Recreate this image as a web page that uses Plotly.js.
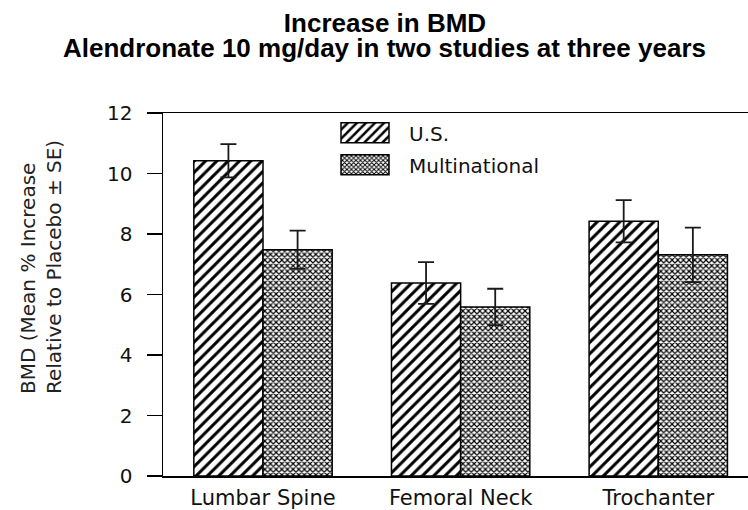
<!DOCTYPE html>
<html>
<head>
<meta charset="utf-8">
<script src="https://cdn.plot.ly/plotly-3.0.1.min.js"></script>
<style>html,body{margin:0;padding:0;background:#fff;}#chart{width:748px;height:510px;}</style>
</head>
<body>
<div id="chart"></div>
<script>
// ---- data ----
const categories = ['Lumbar Spine', 'Femoral Neck', 'Trochanter'];
const usValues = [10.42, 6.38, 8.42];
const usErrors = [0.55, 0.69, 0.70];
const multiValues = [7.48, 5.59, 7.31];
const multiErrors = [0.63, 0.60, 0.90];
const seriesNames = ['U.S.', 'Multinational'];
const yTickValues = [0, 2, 4, 6, 8, 10, 12];
const titleLine1 = 'Increase in BMD';
const titleLine2 = 'Alendronate 10 mg/day in two studies at three years';
const yTitle = 'BMD (Mean % Increase<br>Relative to Placebo ± SE)';

const axisFont = {family: 'DejaVu Sans', size: 20, color: '#111'};

const traces = [
  {
    type: 'bar', name: seriesNames[0], legendgroup: 'us', x: categories, y: usValues,
    marker: {
      color: 'white',
      line: {color: '#000', width: 1.5},
      pattern: {shape: '/', size: 8, solidity: 0.38, fgcolor: '#000', bgcolor: '#fff', fillmode: 'replace'}
    },
    error_y: {type: 'data', array: usErrors, visible: true, color: '#1a1a1a', thickness: 1.8, width: 8}
  },
  {
    type: 'bar', name: seriesNames[1], legendgroup: 'multi', x: categories, y: multiValues,
    marker: {
      color: 'white',
      line: {color: '#000', width: 1.5},
      pattern: {shape: 'x', size: 4, solidity: 0.5, fgcolor: '#000', bgcolor: '#fff', fillmode: 'replace'}
    },
    error_y: {type: 'data', array: multiErrors, visible: true, color: '#1a1a1a', thickness: 1.8, width: 8}
  }
];

const layout = {
  width: 748, height: 510,
  margin: {l: 163, r: 0, t: 113, b: 34},
  paper_bgcolor: '#fff', plot_bgcolor: '#fff',
  barmode: 'group', bargap: 0.30, bargroupgap: 0,
  showlegend: true,
  title: {
    text: '<b>' + titleLine1 + '</b>',
    font: {family: 'Liberation Sans, Arial, sans-serif', size: 26, color: '#000'},
    x: 385 / 748, xanchor: 'center', xref: 'container',
    y: 1 - 32 / 510, yanchor: 'bottom', yref: 'container'
  },
  annotations: [
    {
      text: '<b>' + titleLine2 + '</b>',
      font: {family: 'Liberation Sans, Arial, sans-serif', size: 26, color: '#000'},
      xref: 'paper', yref: 'paper', x: (384 - 163) / 585, y: (476 - 65) / 363,
      xanchor: 'center', yanchor: 'bottom', showarrow: false
    },
    {
      text: yTitle,
      font: {family: 'DejaVu Sans', size: 20, color: '#222'},
      xref: 'paper', yref: 'paper', x: (41 - 163) / 585, y: (476 - 267) / 363,
      xanchor: 'center', yanchor: 'middle', textangle: -90, align: 'left', showarrow: false
    }
  ],
  legend: {
    x: (321 - 163) / 585, y: 0.999, xanchor: 'left', yanchor: 'top',
    font: {family: 'DejaVu Sans', size: 20, color: '#111'},
    itemwidth: 78, bgcolor: 'rgba(0,0,0,0)', borderwidth: 0,
    traceorder: 'grouped', tracegroupgap: 3
  },
  xaxis: {
    type: 'category', range: [-0.506, 2.454],
    showline: true, linecolor: '#000', linewidth: 1.5, mirror: true,
    ticks: '', showgrid: false, zeroline: false,
    tickfont: {family: 'DejaVu Sans', size: 21, color: '#111'},
    ticklabelstandoff: 2
  },
  yaxis: {
    range: [0, 12], tickvals: yTickValues, ticktext: yTickValues.map(String),
    showline: true, linecolor: '#000', linewidth: 1.5,
    ticks: 'outside', ticklen: 15, tickwidth: 1.5, tickcolor: '#000',
    showgrid: false, zeroline: false,
    tickfont: axisFont, ticklabelstandoff: 10
  }
};

Plotly.newPlot('chart', traces, layout, {displayModeBar: false, staticPlot: true}).then(function (gd) {
  // enlarge the legend swatches to match the reference's wide pattern boxes
  gd.querySelectorAll('.legend .legendpoints path').forEach(function (p) {
    p.setAttribute('d', 'M24,10H-24V-10H24Z');
  });
});
</script>
</body>
</html>
